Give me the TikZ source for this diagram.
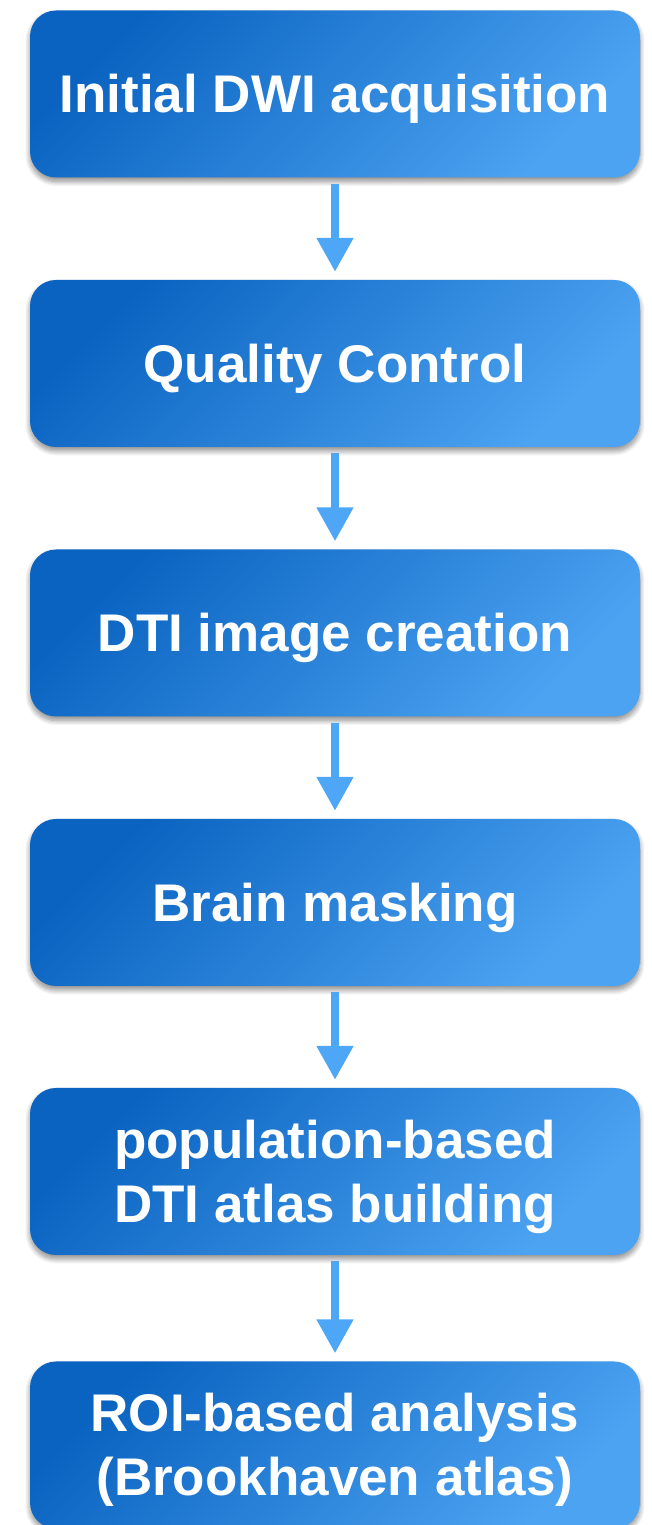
\documentclass[tikz,border=0pt]{standalone}
\usepackage{fontspec}
\setmainfont{Liberation Sans}
\usetikzlibrary{arrows.meta,shadows.blur}

\definecolor{stagedark}{HTML}{0A63C0}
\definecolor{stagelight}{HTML}{4CA3F2}
\definecolor{flowblue}{HTML}{4DA6F6}

\begin{document}
\begin{tikzpicture}[x=1pt, y=1pt,
    stage/.style={rounded corners=26pt, minimum width=610pt, minimum height=167pt,
        top color=stagedark, bottom color=stagelight, shading angle=45,
        blur shadow={shadow xshift=0pt, shadow yshift=-4pt, shadow blur radius=5pt,
            shadow blur steps=10, shadow opacity=45},
        text=white, align=center, inner sep=0pt,
        text height=38pt, text depth=0pt,
        font=\bfseries\fontsize{53}{64}\selectfont},
    twolines/.style={text height=102pt, text depth=0pt},
    flow/.style={draw=flowblue, line width=8pt,
        -{Triangle[width=35pt, length=34pt]}, shorten <=6pt, shorten >=8pt}]
    \useasboundingbox (0,0) rectangle (651,1525);

    % Stufen
    \node[stage] (dwi) at (335,1431) {Initial DWI acquisition};
    \node[stage] (qc) at (335,1161.5) {Quality Control};
    \node[stage] (dti) at (335,892) {DTI image creation};
    \node[stage] (mask) at (335,622.5) {Brain masking};
    \node[stage, twolines] (atlas) at (335,353.5) {population-based\\DTI atlas building};
    \node[stage, twolines] (roi) at (335,80) {ROI-based analysis\\(Brookhaven atlas)};

    % Pfeile
    \draw[flow] (dwi) -- (qc);
    \draw[flow] (qc) -- (dti);
    \draw[flow] (dti) -- (mask);
    \draw[flow] (mask) -- (atlas);
    \draw[flow] (atlas) -- (roi);
\end{tikzpicture}
\end{document}
